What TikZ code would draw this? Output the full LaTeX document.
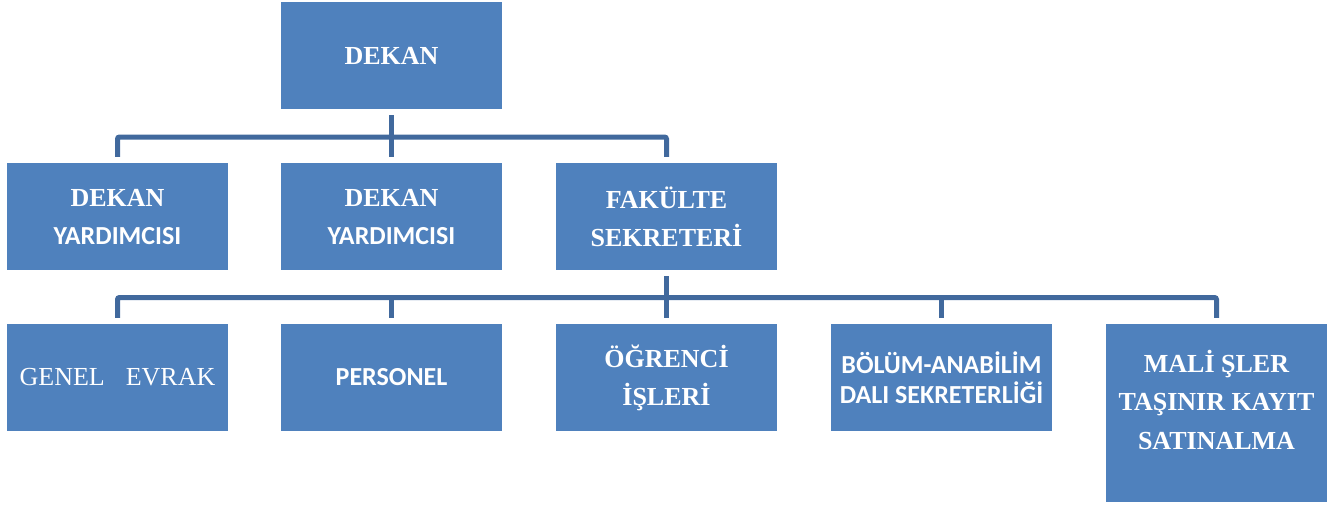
\documentclass[tikz,border=0pt]{standalone}
\usepackage{fontspec}
\setmainfont{Liberation Serif}
\newfontfamily\calib{Carlito}
\definecolor{boxblue}{HTML}{4F81BD}
\definecolor{linkblue}{HTML}{41699D}
\begin{document}
\begin{tikzpicture}[x=1pt,y=-1pt,
  orgbox/.style={fill=boxblue, draw=none, text=white, minimum width=221pt, minimum height=107pt, inner sep=0pt, align=center, font=\bfseries\fontsize{26}{38}\selectfont},
  conn/.style={draw=linkblue, line width=5pt, rounded corners=2pt}]
\useasboundingbox (0,0) rectangle (1344,507);
% top
\node[orgbox] (dekan) at (391.5,55.5) {DEKAN};
% row 2
\node[orgbox] (yard1) at (117.5,216.5) {DEKAN\\{\calib YARDIMCISI}};
\node[orgbox] (yard2) at (391.5,216.5) {DEKAN\\{\calib YARDIMCISI}};
\node[orgbox] (fak) at (666.5,216.5) {FAKÜLTE\\SEKRETERİ};
% row 3
\node[orgbox, font=\fontsize{26}{38}\selectfont] (genel) at (117.5,377.5) {GENEL\hspace{21pt}EVRAK};
\node[orgbox, font=\calib\bfseries\fontsize{26}{38}\selectfont] (pers) at (391.5,377.5) {PERSONEL};
\node[orgbox] (ogr) at (666.5,377.5) {ÖĞRENCİ\\İŞLERİ};
\node[orgbox, font=\calib\bfseries\fontsize{26}{30}\selectfont] (bolum) at (941.5,377.5) {BÖLÜM-ANABİLİM\\DALI SEKRETERLİĞİ};
\node[orgbox, minimum height=178pt] (mali) at (1216.5,413) {};
\node[text=white, inner sep=0pt, align=center, font=\bfseries\fontsize{26}{38.5}\selectfont] (malitext) at (1216.5,399.5) {MALİ ŞLER\\TAŞINIR KAYIT\\SATINALMA};
% level 1 connectors
\coordinate (b1) at (391.5,137);
\draw[conn] ([yshift=-6pt]dekan.south) -- (b1);
\draw[conn] ([yshift=6pt]yard1.north) |- (b1 -| fak.north) -- ([yshift=6pt]fak.north);
\draw[conn] (b1) -- ([yshift=6pt]yard2.north);
% level 2 connectors
\coordinate (b2) at (666.5,297.5);
\draw[conn] ([yshift=-6pt]fak.south) -- ([yshift=6pt]ogr.north);
\draw[conn] ([yshift=6pt]genel.north) |- (b2 -| mali.north) -- ([yshift=6pt]mali.north);
\draw[conn] (b2 -| pers.north) -- ([yshift=6pt]pers.north);
\draw[conn] (b2 -| bolum.north) -- ([yshift=6pt]bolum.north);
\end{tikzpicture}
\end{document}
